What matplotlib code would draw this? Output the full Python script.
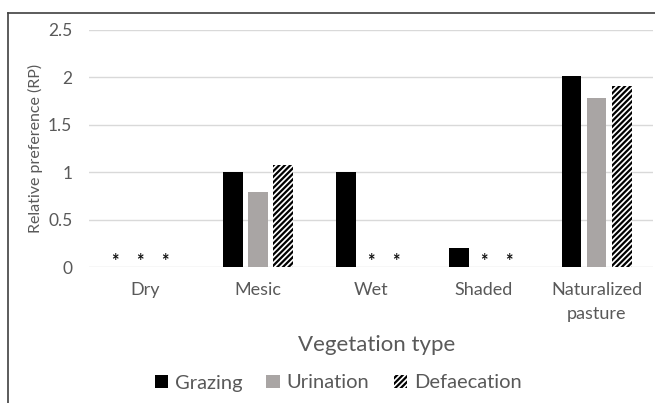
import numpy as np
import matplotlib
matplotlib.use('Agg')
import matplotlib.pyplot as plt
from matplotlib.patches import Patch
from matplotlib.lines import Line2D

plt.rcParams['font.family'] = ['Lato', 'DejaVu Sans']
plt.rcParams['hatch.linewidth'] = 1.6

categories = ['Dry', 'Mesic', 'Wet', 'Shaded', 'Naturalized\npasture']
grazing = [0, 1.0, 1.0, 0.2, 2.01]
urination = [0, 0.79, 0, 0, 1.78]
defaecation = [0, 1.08, 0, 0, 1.91]
# asterisks mark "no data" cells: (category index, series index)
star_cells = [(0, 0), (0, 1), (0, 2), (2, 1), (2, 2), (3, 1), (3, 2)]

txt = '#595959'
grid = '#d9d9d9'

fig = plt.figure(figsize=(6.55, 4.03), dpi=100)
ax = fig.add_axes([89/655, (403-267)/403, (653-89)/655, (267-30)/403])

x = np.arange(len(categories))
w = 0.175
off = 0.222
ax.bar(x - off, grazing, w, color='black', zorder=3)
ax.bar(x, urination, w, color='#a9a5a4', zorder=3)
ax.bar(x + off, defaecation, w, color='white', edgecolor='black',
       hatch='//////', linewidth=0, zorder=3)

for ci, si in star_cells:
    sx = x[ci] + (si - 1) * off
    if ci == 0:
        sx -= 0.05
    ax.text(sx, 0.07, '*', ha='center', va='center_baseline', fontsize=13,
            color='#111111', fontweight='bold', zorder=4)

ax.set_xlim(-0.5, len(categories) - 0.5)
ax.set_ylim(0, 2.5)
ax.set_yticks([0, 0.5, 1, 1.5, 2, 2.5])
ax.set_yticklabels(['0', '0.5', '1', '1.5', '2', '2.5'])
ax.set_xticks(x)
ax.set_xticklabels(categories, linespacing=1.6)
ax.tick_params(axis='both', length=0, colors=txt)
ax.tick_params(axis='y', pad=12, labelsize=12.5)
ax.tick_params(axis='x', pad=11, labelsize=13)
for s in ax.spines.values():
    s.set_visible(False)
ax.yaxis.grid(True, color=grid, linewidth=1, zorder=0)
ax.set_axisbelow(True)

ax.set_ylabel('Relative preference (RP)', fontsize=11.5, color=txt)
ax.yaxis.set_label_coords((43 - 89) / (653 - 89), 0.5)
fig.text(377/655, (403-345)/403, 'Vegetation type', ha='center', va='center',
         fontsize=16, color=txt)

handles = [Patch(facecolor='black'), Patch(facecolor='#a9a5a4'),
           Patch(facecolor='white', edgecolor='black', hatch='//////', linewidth=0)]
fig.legend(handles, ['Grazing', 'Urination', 'Defaecation'], loc='center',
           bbox_to_anchor=(338/655, (403-383)/403), ncol=3, frameon=False,
           fontsize=14.5, handlelength=0.65, handleheight=0.65, handletextpad=0.35,
           columnspacing=1.2, labelcolor=txt)

# chart frame (cropped)
fig.add_artist(Line2D([8/655, 1], [1 - 13/403, 1 - 13/403], color='#404040', linewidth=1.2))
fig.add_artist(Line2D([8/655, 8/655], [0, 1 - 13/403], color='#404040', linewidth=1.2))

fig.savefig('out.png', dpi=100)
